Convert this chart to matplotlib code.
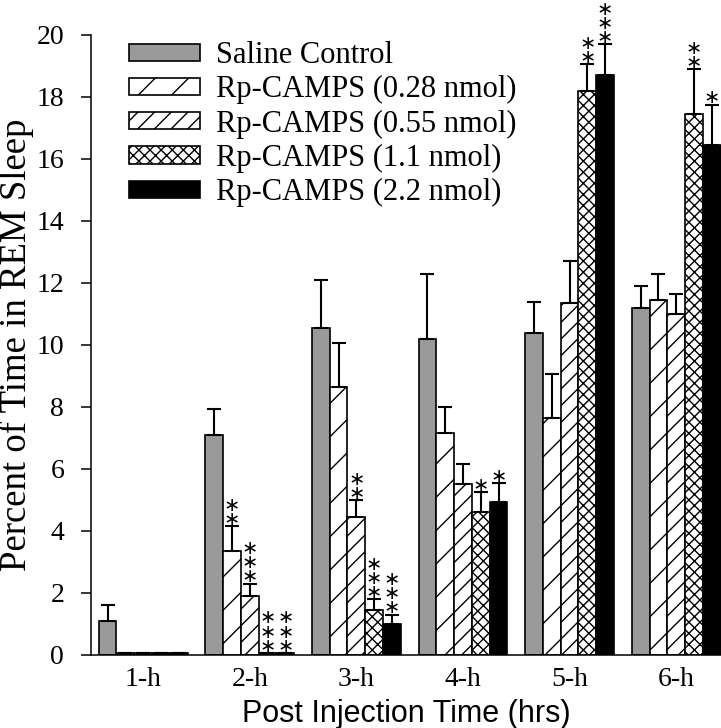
import matplotlib
matplotlib.use("Agg")
import matplotlib.pyplot as plt
import numpy as np

hours = ["1-h", "2-h", "3-h", "4-h", "5-h", "6-h"]
names = ["Saline Control", "Rp-CAMPS (0.28 nmol)", "Rp-CAMPS (0.55 nmol)",
         "Rp-CAMPS (1.1 nmol)", "Rp-CAMPS (2.2 nmol)"]

saline = [1.1, 7.1, 10.55, 10.2, 10.4, 11.2]
saline_err = [0.5, 0.85, 1.55, 2.1, 1.0, 0.7]
rp028 = [0.06, 3.35, 8.65, 7.15, 7.65, 11.45]
rp028_err = [0, 0.8, 1.4, 0.85, 1.4, 0.85]
rp055 = [0.06, 1.9, 4.45, 5.5, 11.35, 11.0]
rp055_err = [0, 0.4, 0.55, 0.65, 1.35, 0.65]
rp11 = [0.06, 0.06, 1.45, 4.6, 18.2, 17.45]
rp11_err = [0, 0, 0.35, 0.65, 0.85, 1.45]
rp22 = [0.06, 0.06, 1.0, 4.95, 18.7, 16.45]
rp22_err = [0, 0, 0.3, 0.6, 1.0, 1.3]

# how many asterisks sit on top of each bar
saline_stars = [0, 0, 0, 0, 0, 0]
rp028_stars = [0, 2, 0, 0, 0, 0]
rp055_stars = [0, 3, 2, 0, 0, 0]
rp11_stars = [0, 3, 3, 1, 2, 2]
rp22_stars = [0, 3, 3, 1, 3, 1]

values = [saline, rp028, rp055, rp11, rp22]
errors = [saline_err, rp028_err, rp055_err, rp11_err, rp22_err]
stars = [saline_stars, rp028_stars, rp055_stars, rp11_stars, rp22_stars]
faces = ["#9a9a9a", "white", "white", "white", "black"]
hatches = [None, "/", "//", "xxx", None]

plt.rcParams["hatch.linewidth"] = 1.0
serif = "Liberation Serif"

fig = plt.figure(figsize=(7.21, 7.28), dpi=100)
ax = fig.add_axes([0.126, 0.1003, 0.874, 0.8517])

x = np.arange(len(hours))
w = 1 / 6
for i in range(5):
    xs = x + (i - 2) * w
    ax.bar(xs, values[i], width=w, color=faces[i], edgecolor="black",
           linewidth=1.2, hatch=hatches[i], label=names[i], zorder=2)
    ax.errorbar(xs, values[i], yerr=[np.zeros(len(hours)), errors[i]],
                fmt="none", ecolor="black", elinewidth=1.5, capsize=4.7,
                capthick=1.5, zorder=3)
    for j in range(len(hours)):
        n = stars[i][j]
        if n == 0:
            continue
        top = values[i][j] + errors[i][j]
        ax.annotate("\n".join(["\u2217"] * n), (xs[j], top), xytext=(0, 0.9),
                    textcoords="offset points", ha="center", va="baseline",
                    fontsize=14, family="DejaVu Sans", linespacing=0.68,
                    annotation_clip=False)

ax.set_xlim(-0.49, 5.42)
ax.set_ylim(0, 20)
ax.set_yticks(np.arange(0, 21, 2))
ax.set_xticks(x)
ax.set_xticklabels(hours)
for lab in ax.get_xticklabels() + ax.get_yticklabels():
    lab.set_family(serif)
    lab.set_fontsize(20)
ax.tick_params(axis="x", length=0, pad=9)
ax.tick_params(axis="y", length=7.2, width=1.1, pad=12)
ax.spines["top"].set_visible(False)
ax.spines["right"].set_visible(False)
ax.spines["left"].set_linewidth(1.1)
ax.spines["bottom"].set_linewidth(1.1)

ax.set_ylabel("Percent of Time in REM Sleep", family=serif, fontsize=26.5)
ax.yaxis.set_label_coords(-0.0895, 0.5)
ax.set_xlabel("Post Injection Time (hrs)", family="Liberation Sans", fontsize=22)
ax.xaxis.set_label_coords(0.5, -0.071)

ax.legend(loc="upper left", bbox_to_anchor=(0.06, 0.99), frameon=False,
          prop={"family": serif, "size": 22}, handlelength=2.32,
          handleheight=0.49, handletextpad=0.55, labelspacing=0.17, borderpad=0,
          borderaxespad=0)

fig.savefig("out.png", dpi=100)
